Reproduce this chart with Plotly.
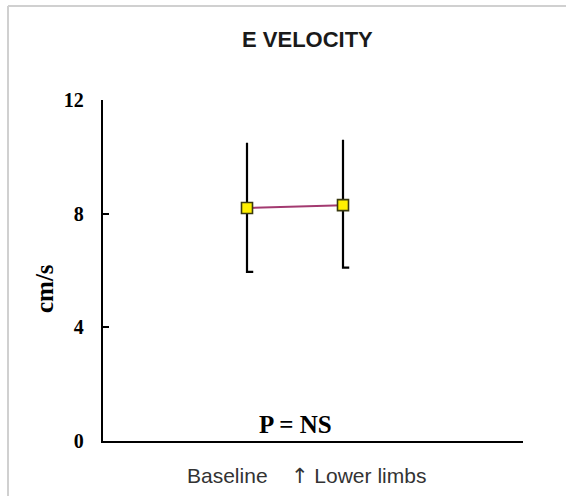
import plotly.graph_objects as go

# ---- data ----
categories = ["Baseline", "\u2191 Lower limbs"]
means = [8.2, 8.3]
upper = [10.5, 10.6]
lower = [5.95, 6.1]
y_ticks = [0, 4, 8, 12]
y_tick_labels = ["0", "4", "8", "12"]
title_text = "E VELOCITY"
y_title = "cm/s"
x_title = ("Baseline\u00a0\u00a0\u00a0\u00a0"
           "<span style='font-family:DejaVu Sans;font-size:21px;color:#333333'>\u2191</span>"
           "\u00a0Lower limbs")
p_text = "P = NS"

W, H = 566, 496
L, R, T, B = 103, 43, 100, 55
pw, ph = W - L - R, H - T - B

def px(x):
    return (x - L) / pw

def py(y):
    return (H - B - y) / ph

xpos = list(range(len(categories)))
cap = 0.065

fig = go.Figure()

# error bars (bottom cap only)
for i, xv in enumerate(xpos):
    fig.add_trace(go.Scatter(
        x=[xv, xv, xv + cap], y=[upper[i], lower[i], lower[i]],
        mode="lines", line=dict(color="black", width=2.2),
        hoverinfo="skip", showlegend=False))

fig.add_trace(go.Scatter(
    x=xpos, y=means, mode="lines+markers",
    line=dict(color="#A33A70", width=2),
    marker=dict(symbol="square", size=11, color="#FFF000",
                line=dict(color="#3A3A10", width=1.6)),
    showlegend=False))

serif = "Liberation Serif, Times New Roman, serif"
sans = "Liberation Sans, Arial, sans-serif"

fig.update_layout(
    width=W, height=H,
    margin=dict(l=L, r=R, t=T, b=B, pad=0),
    paper_bgcolor="white", plot_bgcolor="white",
    showlegend=False,
    xaxis=dict(range=[-1.5, 2.875], showgrid=False, zeroline=False,
               showticklabels=False, ticks="", showline=True,
               linecolor="black", linewidth=2.2, fixedrange=True),
    yaxis=dict(range=[0, 12], tickvals=y_ticks,
               ticktext=["<b>%s</b>" % t for t in y_tick_labels],
               ticks="inside", ticklen=6,
               tickwidth=2, tickcolor="black", showgrid=False, zeroline=False,
               showline=True, linecolor="black", linewidth=2.2,
               tickfont=dict(family=serif, size=20, color="black"),
               ticklabelstandoff=13, fixedrange=True),
    shapes=[
        dict(type="line", xref="paper", yref="paper", x0=px(8), x1=px(8),
             y0=py(6), y1=py(H), line=dict(color="#D0D0D0", width=2)),
        dict(type="line", xref="paper", yref="paper", x0=px(8), x1=px(W),
             y0=py(6), y1=py(6), line=dict(color="#D0D0D0", width=2)),
    ],
    annotations=[
        dict(text=title_text, xref="paper", yref="paper", x=px(307), y=py(40),
             xanchor="center", yanchor="middle", showarrow=False,
             font=dict(family=sans, size=22, color="#1A1A1A", weight="bold")),
        dict(text=p_text, xref="paper", yref="paper", x=px(295), y=py(424),
             xanchor="center", yanchor="middle", showarrow=False,
             font=dict(family=serif, size=25, color="black", weight="bold")),
        dict(text=x_title, xref="paper", yref="paper", x=px(306), y=py(476),
             xanchor="center", yanchor="middle", showarrow=False,
             font=dict(family=sans, size=21, color="#333333")),
        dict(text=y_title, xref="paper", yref="paper", x=px(44), y=py(289),
             xanchor="center", yanchor="middle", showarrow=False, textangle=-90,
             font=dict(family=serif, size=25, color="black", weight="bold")),
    ],
)

fig.write_html("out.html",
               config={"displayModeBar": False, "staticPlot": True},
               post_script="document.body.style.margin='0';"
                           "document.body.style.overflow='hidden';"
                           "document.documentElement.style.overflow='hidden';")
